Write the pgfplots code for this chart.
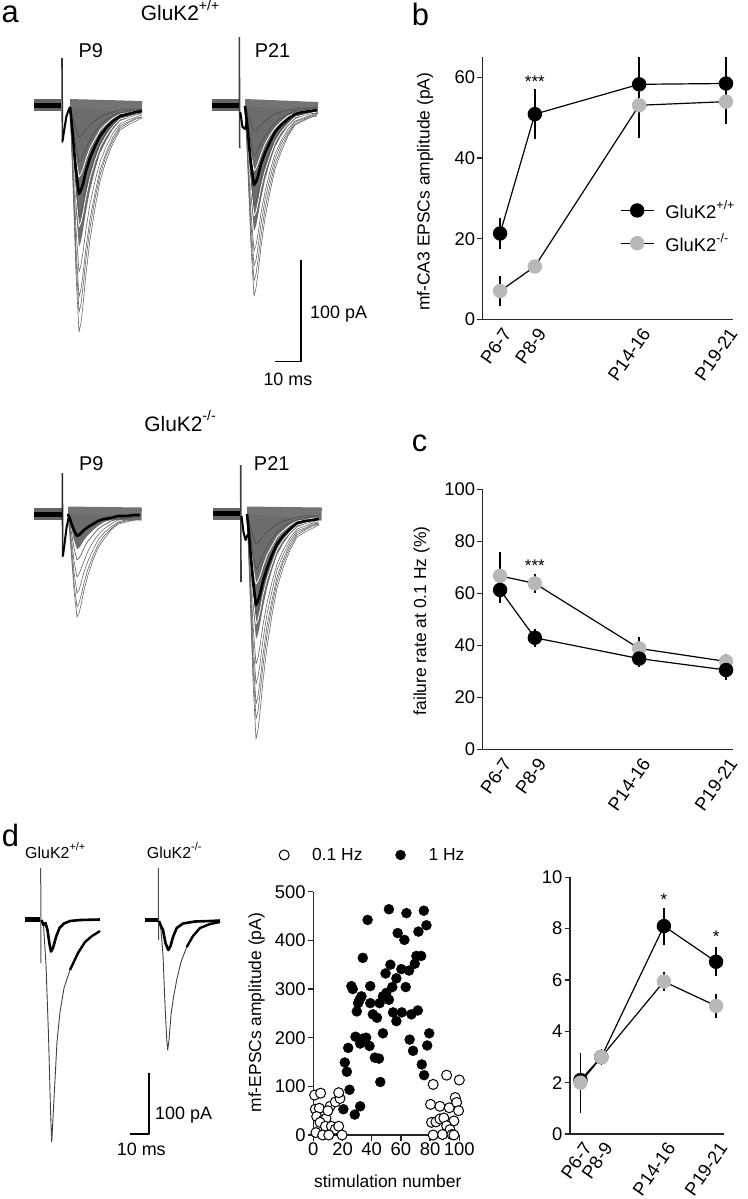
\documentclass[border=0pt]{standalone}
\usepackage{fontspec}
\setmainfont{Liberation Sans}
\usepackage{pgfplots}
\usepackage{pgfplotstable}
\pgfplotsset{compat=1.18}
\definecolor{mgrey}{RGB}{184,184,184}
\definecolor{trc}{RGB}{108,108,108}
\newcommand\fT{\fontsize{21}{23}\selectfont}
\newcommand\fPl{\fontsize{20}{22}\selectfont}
\newcommand\fB{\fontsize{18}{20}\selectfont}
\newcommand\fD{\fontsize{16}{18}\selectfont}
\newcommand\fL{\fontsize{17.5}{20}\selectfont}
\newcommand\fP{\fontsize{31}{33}\selectfont}
\newcommand\fS{\fontsize{17}{19}\selectfont}
\newcommand\supx[2]{\raisebox{0.5em}{\fontsize{#1}{#1}\selectfont #2}}
\pgfplotsset{
 gp/.style={scale only axis, axis x line*=bottom, axis y line*=left,
   axis line style={line width=1.3bp, black!85},
   every tick/.style={line width=1.3bp, black!85},
   tick align=outside, major tick length=5.5bp,
   /pgf/number format/assume math mode=true,
   tick label style={font=\fontsize{18.5}{20}\selectfont},
   label style={font=\fL},
   yticklabel style={inner sep=2bp}},
 cat/.style={xmin=6, xtick={7,9,15,20}, xticklabels={P6-7,P8-9,P14-16,P19-21},
   every major x tick/.style={draw=none},
   xticklabel style={rotate=55, anchor=north east, inner sep=2bp, xshift=2bp}},
 blk/.style={black, line width=1.2bp, mark=*, mark size=6.6bp, mark options={solid, fill=black, draw=black},
   error bars/.cd, y dir=both, y explicit, error mark=none, error bar style={line width=1.3bp, black}},
 gry/.style={black, line width=1.2bp, mark=*, mark size=6.6bp, mark options={solid, fill=mgrey, draw=mgrey},
   error bars/.cd, y dir=both, y explicit, error mark=none, error bar style={line width=1.3bp, black}},
}
% ---------- traces (pixel units of the figure) ----------
\pgfplotstableread{
x avg fill l30 l55 l110 l165 l190 l205 l225 w70 w120
70 107 107 107 107 107 107 107 107 107 107 107
72 126 138 114 119 131 143 149 152 157 122 133
74 149 174 121 133 160 186 198 205 215 141 165
76 171 211 129 148 188 229 248 259 274 159 196
79 194 247 137 162 217 272 297 312 332 177 227
81 190 241 136 160 213 265 289 304 323 174 222
83 184 230 133 155 204 252 274 287 305 169 213
86 171 211 129 148 188 229 248 259 274 159 196
90 158 190 125 140 172 204 219 228 240 148 178
95 146 170 121 132 157 181 193 199 208 139 161
100 136 153 117 125 143 162 170 175 181 130 147
106 128 141 114 120 133 147 153 156 161 124 136
113 121 129 112 116 125 133 137 140 143 118 126
120 116 121 110 113 118 124 126 128 130 114 119
128 114 118 109 111 116 120 122 123 125 113 117
136 112 115 109 110 114 117 118 119 121 111 114
142 111 114 109 110 113 115 117 117 118 111 113
}\TA
\pgfplotstableread{
x avg fill l25 l50 l100 l145 l160 l175 l190 w65 w110
245 106 106 106 106 106 106 106 106 106 106 106
247 123 134 112 117 128 138 141 145 148 120 130
249 144 166 118 130 154 176 183 190 197 137 159
251 164 199 125 143 180 213 224 236 247 154 187
254 185 231 131 156 206 251 266 281 296 171 216
256 182 226 130 154 202 245 260 274 288 168 212
258 176 216 128 150 194 234 247 260 273 163 203
261 164 199 125 143 180 213 224 236 247 154 187
265 153 180 121 136 165 192 200 209 218 144 171
270 142 162 117 129 151 171 178 185 192 135 156
275 132 147 114 123 139 154 159 164 169 128 142
281 125 136 112 118 130 141 144 148 152 122 132
288 119 126 110 114 122 129 132 134 136 116 124
295 114 119 109 111 116 121 122 124 125 113 117
303 112 116 108 110 114 118 119 120 121 111 115
311 111 114 108 109 112 115 116 117 117 110 113
317 110 112 107 109 111 113 114 115 116 109 112
}\TB
\pgfplotstableread{
x avg fill l46 l63 l79 l93 l103
68 514 514 514 514 514 514 514
70 519 522 524 528 531 534 537
72 525 531 536 544 552 559 563
74 530 540 548 561 572 583 590
77 536 549 560 577 593 607 617
79 535 548 558 574 590 603 613
81 533 545 555 569 583 596 605
84 530 540 548 561 572 583 590
88 527 535 541 551 561 569 575
93 524 530 535 542 550 556 560
98 521 526 529 535 540 545 548
104 519 522 525 529 533 536 539
111 518 520 521 524 527 529 530
118 516 518 519 520 522 523 524
126 516 517 518 519 520 521 522
134 515 516 517 518 519 520 520
140 515 516 516 517 518 519 519
}\TC
\pgfplotstableread{
x avg fill l30 l55 l100 l150 l170 l190 l205 l225 w70 w110
247 514 514 514 514 514 514 514 514 514 514 514 514
249 534 542 521 526 536 547 551 556 559 564 529 538
251 558 574 528 540 562 586 596 605 612 622 548 567
253 581 607 536 555 588 625 640 655 666 681 566 595
256 605 639 544 569 614 664 684 704 719 739 584 624
258 601 634 543 567 610 658 677 696 711 730 581 620
260 594 624 540 562 602 646 664 681 694 712 576 611
263 581 607 536 555 588 625 640 655 666 681 566 595
267 568 588 532 547 573 603 614 626 635 647 555 579
272 555 570 528 539 559 582 591 600 606 615 546 564
277 544 555 524 532 547 564 570 577 582 588 537 550
283 536 544 521 527 538 550 555 560 563 568 531 540
290 529 534 519 523 530 538 541 544 547 550 525 532
297 523 527 517 520 524 529 531 533 535 537 521 525
305 521 524 516 518 522 526 528 529 530 532 520 523
313 520 522 516 517 520 523 524 525 526 528 518 521
319 519 520 516 517 519 522 523 524 524 525 518 520
}\TD
% ---------- summary data ----------
\pgfplotstableread{
x y e
7 21.3 3.8
9 50.9 6.2
15 58.3 7.6
20 58.5 6.8
}\ampWT
\pgfplotstableread{
x y e
7 7.0 3.8
9 13.1 1.6
15 53.1 8.0
20 54.0 5.6
}\ampKO
\pgfplotstableread{
x y e
7 61.3 5.0
9 42.9 3.5
15 34.9 3.3
20 30.5 4.0
}\failWT
\pgfplotstableread{
x y e
7 66.7 9.3
9 63.8 3.5
15 38.8 4.4
20 33.8 3.0
}\failKO
\pgfplotstableread{
x y e
7 2.10 0.30
9 3.00 0.25
15 8.10 0.72
20 6.71 0.57
}\facWT
\pgfplotstableread{
x y e
7 2.00 1.17
9 3.00 0.30
15 5.94 0.38
20 4.99 0.47
}\facKO
\pgfplotstableread{
x y
0.9 82
5 86
1.4 53
4.1 55
11.5 59
15.1 68
18.3 75
17.4 87
2.3 38
6.9 31
8.7 34
10 50
4.6 26
8.3 18
12.4 18
15.1 12
17.4 18
1.8 5
6.4 0
10.6 0
19.7 0
82.1 104
91.3 123
100 113
80.3 63
86.7 59
93.1 56
97.2 77
98.2 67
99.5 50
81 26
84 27
86.7 33
89.4 35
96.3 29
91.3 19
93.6 11
82.1 0
88.5 1
95 1
96.3 0
}\slow
\pgfplotstableread{
x y
51.8 464
63.8 456
75.7 461
37.2 442
77.5 431
72 418
57.8 415
62.4 401
33.9 364
70.6 368
73.9 368
69.5 352
52.8 350
65.6 338
60.3 341
49.5 332
56.9 322
26.1 306
27 300
39 306
63.3 304
54.1 304
50 292
33 285
51.8 278
30.7 271
39 271
45.4 271
29.8 254
40.8 248
43.6 241
54.6 252
60.6 252
56.9 234
67.2 248
71.6 256
28.9 202
33.9 198
36.2 200
32.1 188
38.5 183
47.7 209
79.4 209
66 196
78 184
23.9 179
42.2 159
45 157
68.3 173
21.6 149
23 130
74.3 145
75.9 123
45.9 109
24.8 93
20.6 53
32.1 59
28.4 42
31.7 278
47.7 285
}\fast
\begin{document}
\begin{tikzpicture}
\useasboundingbox (0bp,0bp) rectangle (748bp,-1199bp);
% ================= traces & annotations =================
\begin{axis}[at={(0bp,0bp)}, anchor=north west, scale only axis, width=748bp, height=1199bp,
  xmin=0, xmax=748, ymin=0, ymax=1199, y dir=reverse, hide axis, clip=false, no markers,
  every axis plot/.append style={line join=round}]
% ---- a, GluK2+/+ P9
\addplot[black!55, line width=12bp] coordinates {(70,105) (142,107)};
\addplot[draw=none, fill=trc] table[x=x,y=fill]{\TA} -- cycle;
\addplot[white, line width=0.8bp] table[x=x,y=w70]{\TA};
\addplot[white, line width=0.8bp] table[x=x,y=w120]{\TA};
\addplot[black!70, line width=0.6bp] table[x=x,y=l30]{\TA};
\addplot[black!70, line width=0.6bp] table[x=x,y=l55]{\TA};
\addplot[black!70, line width=0.6bp] table[x=x,y=l110]{\TA};
\addplot[black!60, line width=0.6bp] table[x=x,y=l165]{\TA};
\addplot[black!60, line width=0.6bp] table[x=x,y=l190]{\TA};
\addplot[black!60, line width=0.6bp] table[x=x,y=l205]{\TA};
\addplot[black!60, line width=0.6bp] table[x=x,y=l225]{\TA};
\addplot[black!60, line width=12bp] coordinates {(33.5,105) (61,105)};
\addplot[black, line width=5bp] coordinates {(33.5,105) (61,105)};
\addplot[black!80, line width=1.6bp] coordinates {(62,58) (62.4,143)};
\addplot[black, line width=2bp] coordinates {(62.6,141) (64.5,128) (66.5,116) (69,109) (70.5,107)};
\addplot[black, line width=2.6bp] table[x=x,y=avg]{\TA};
% ---- a, GluK2+/+ P21
\addplot[black!55, line width=12bp] coordinates {(245,105) (318,108)};
\addplot[draw=none, fill=trc] table[x=x,y=fill]{\TB} -- cycle;
\addplot[white, line width=0.8bp] table[x=x,y=w65]{\TB};
\addplot[white, line width=0.8bp] table[x=x,y=w110]{\TB};
\addplot[black!70, line width=0.6bp] table[x=x,y=l25]{\TB};
\addplot[black!70, line width=0.6bp] table[x=x,y=l50]{\TB};
\addplot[black!70, line width=0.6bp] table[x=x,y=l100]{\TB};
\addplot[black!60, line width=0.6bp] table[x=x,y=l145]{\TB};
\addplot[black!60, line width=0.6bp] table[x=x,y=l160]{\TB};
\addplot[black!60, line width=0.6bp] table[x=x,y=l175]{\TB};
\addplot[black!60, line width=0.6bp] table[x=x,y=l190]{\TB};
\addplot[black!60, line width=12bp] coordinates {(211.7,105) (238.5,105)};
\addplot[black, line width=5bp] coordinates {(211.7,105) (238.5,105)};
\addplot[black!75, line width=1.6bp] coordinates {(239.3,37) (239.7,148)};
\addplot[black, line width=2bp] coordinates {(240.3,112) (242.5,127) (245,129) (247,121)};
\addplot[black, line width=2.6bp] table[x=x,y=avg]{\TB};
% ---- a, GluK2-/- P9
\addplot[black!55, line width=13bp] coordinates {(68,513) (141.7,514)};
\addplot[draw=none, fill=trc] table[x=x,y=fill]{\TC} -- cycle;
\addplot[black!70, line width=0.6bp] table[x=x,y=l46]{\TC};
\addplot[black!60, line width=0.6bp] table[x=x,y=l63]{\TC};
\addplot[black!60, line width=0.6bp] table[x=x,y=l79]{\TC};
\addplot[black!60, line width=0.6bp] table[x=x,y=l93]{\TC};
\addplot[black!60, line width=0.6bp] table[x=x,y=l103]{\TC};
\addplot[black!60, line width=12bp] coordinates {(34,514) (61.5,514)};
\addplot[black, line width=5bp] coordinates {(34,514) (61.5,514)};
\addplot[black!85, line width=1.6bp] coordinates {(62.3,473) (62.7,557)};
\addplot[black, line width=2bp] coordinates {(62.9,556) (64.5,544) (66.5,528) (68.5,518) (70,519)};
\addplot[black, line width=2.6bp] table[x=x,y=avg]{\TC};
% ---- a, GluK2-/- P21
\addplot[black!55, line width=13bp] coordinates {(247,513) (321.7,514)};
\addplot[draw=none, fill=trc] table[x=x,y=fill]{\TD} -- cycle;
\addplot[white, line width=0.8bp] table[x=x,y=w70]{\TD};
\addplot[white, line width=0.8bp] table[x=x,y=w110]{\TD};
\addplot[black!70, line width=0.6bp] table[x=x,y=l30]{\TD};
\addplot[black!70, line width=0.6bp] table[x=x,y=l55]{\TD};
\addplot[black!70, line width=0.6bp] table[x=x,y=l100]{\TD};
\addplot[black!60, line width=0.6bp] table[x=x,y=l150]{\TD};
\addplot[black!60, line width=0.6bp] table[x=x,y=l170]{\TD};
\addplot[black!60, line width=0.6bp] table[x=x,y=l190]{\TD};
\addplot[black!60, line width=0.6bp] table[x=x,y=l205]{\TD};
\addplot[black!60, line width=0.6bp] table[x=x,y=l225]{\TD};
\addplot[black!60, line width=12bp] coordinates {(213.3,513.5) (240,513.5)};
\addplot[black, line width=5bp] coordinates {(213.3,513.5) (240,513.5)};
\addplot[black!75, line width=1.6bp] coordinates {(240.7,465) (241,582)};
\addplot[black, line width=2bp] coordinates {(241.5,516) (243.5,532) (245.5,540) (247.5,535) (249,534)};
\addplot[black, line width=2.6bp] table[x=x,y=avg]{\TD};
% ---- scale bar a
\addplot[black, line width=1.5bp] coordinates {(275,361.7) (301,361.7) (301,260)};
% ---- d traces, GluK2+/+
\addplot[black, line width=4.5bp] coordinates {(25,919.5) (40,919.5)};
\addplot[black!70, line width=1bp] coordinates {(40.7,868) (41,963)};
\addplot[black!75, line width=0.9bp] coordinates {(41.5,921) (43.5,925) (46,965) (48.5,1035) (50.5,1110) (51.7,1142) (53,1118) (55,1080) (57,1042) (60,1012) (64,988) (70,970) (78,953) (85,942) (92,936) (100,931)};
\addplot[black, line width=2.4bp] coordinates {(70,970) (78,953) (85,942) (92,936) (100,931)};
\addplot[black, line width=2.6bp] coordinates {(41.5,920) (43.5,925) (45.5,923) (47.5,930) (49.5,944) (51,951.5) (53,948) (56,937) (59.5,928) (64,923.5) (70,921) (80,920) (100,919.5)};
% ---- d traces, GluK2-/-
\addplot[black, line width=4.5bp] coordinates {(145,920) (158,920)};
\addplot[black!70, line width=1bp] coordinates {(158.3,868) (158.6,940)};
\addplot[black!75, line width=0.9bp] coordinates {(159,921) (161,930) (163,955) (165,1005) (166.8,1040) (167.7,1050) (169,1040) (171,1015) (173.5,997) (176.7,980) (181,962) (186.7,947) (193,936) (200,928) (210,924) (220,922)};
\addplot[black, line width=2.4bp] coordinates {(186.7,947) (193,936) (200,928) (210,924) (220,922)};
\addplot[black, line width=2.6bp] coordinates {(159,921) (161,926) (163,930) (165.5,943) (168.3,950) (170.5,946) (173,937) (176.7,928) (183,923.5) (195,921.5) (210,921) (220,920.5)};
% ---- scale bar d
\addplot[black, line width=1.5bp] coordinates {(130,1134) (149,1134) (149,1073.3)};
% ---- texts
\node[anchor=base west, font=\fP, inner sep=0pt, text height=0.55em] at (axis cs:1.5,22.5) {a};
\node[anchor=base west, font=\fP, inner sep=0pt, text height=0.75em] at (axis cs:411.7,25) {b};
\node[anchor=base west, font=\fP, inner sep=0pt, text height=0.55em] at (axis cs:411.7,451.7) {c};
\node[anchor=base west, font=\fP, inner sep=0pt, text height=0.75em] at (axis cs:1.7,846.7) {d};
\node[anchor=base, font=\fT] at (axis cs:180,20.7) {GluK2\supx{14}{+/+}};
\node[anchor=base, font=\fPl] at (axis cs:90.8,57.3) {P9};
\node[anchor=base, font=\fPl] at (axis cs:272.5,57.3) {P21};
\node[anchor=base, font=\fT] at (axis cs:180,431) {GluK2\supx{14}{-/-}};
\node[anchor=base, font=\fPl] at (axis cs:91.2,470.7) {P9};
\node[anchor=base, font=\fPl] at (axis cs:271.7,470.7) {P21};
\node[anchor=base west, font=\fB, inner sep=0pt] at (axis cs:310,318.3) {100 pA};
\node[anchor=base west, font=\fB, inner sep=0pt] at (axis cs:263.3,385) {10 ms};
\node[anchor=base west, font=\fD, inner sep=0pt] at (axis cs:25,858.3) {GluK2\supx{11}{+/+}};
\node[anchor=base west, font=\fD, inner sep=0pt] at (axis cs:146.7,858.3) {GluK2\supx{11}{-/-}};
\node[anchor=base west, font=\fB, inner sep=0pt] at (axis cs:155,1119) {100 pA};
\node[anchor=base west, font=\fB, inner sep=0pt] at (axis cs:116.7,1155) {10 ms};
\end{axis}
% ================= b =================
\begin{axis}[gp, cat, at={(482.7bp,-319.3bp)}, anchor=south west, width=250.3bp, height=262bp,
  xmax=20.4, ymin=0, ymax=65, ytick={0,20,40,60},
  ylabel={mf-CA3 EPSCs amplitude (pA)},
  ylabel style={at={(axis description cs:-0.2305,0.487)}, anchor=center},
  legend style={at={(0.548,0.353)}, anchor=west, draw=none, fill=none, inner sep=0pt,
    row sep=9bp, font=\fontsize{18.5}{20}\selectfont,
    /tikz/every odd column/.append style={column sep=9bp}},
  legend cell align=left,
  legend image code/.code={\draw[#1, mark repeat=2, mark phase=2] plot coordinates {(0bp,0bp) (16.5bp,0bp) (33bp,0bp)};}]
\addplot[blk] table[x=x,y=y,y error=e]{\ampWT};
\addplot[gry] table[x=x,y=y,y error=e]{\ampKO};
\legend{GluK2\supx{12.5}{+/+}, GluK2\supx{12.5}{-/-}}
\node[anchor=base, font=\fS] at (axis cs:9,57.5) {***};
\end{axis}
% ================= c =================
\begin{axis}[gp, cat, at={(482.7bp,-749.3bp)}, anchor=south west, width=250.3bp, height=260bp,
  xmax=20.4, ymin=0, ymax=100, ytick={0,20,40,60,80,100},
  ylabel={failure rate at 0.1 Hz (\%)},
  ylabel style={at={(axis description cs:-0.244,0.494)}, anchor=center}]
\addplot[gry] table[x=x,y=y,y error=e]{\failKO};
\addplot[blk] table[x=x,y=y,y error=e]{\failWT};
\node[anchor=base, font=\fS] at (axis cs:9,68.3) {***};
\end{axis}
% ================= d scatter =================
\begin{axis}[gp, at={(313.3bp,-1135bp)}, anchor=south west, width=146bp, height=243.3bp,
  xmin=0, xmax=100, ymin=0, ymax=500, xtick={0,20,40,60,80,100}, ytick={0,100,200,300,400,500},
  xlabel={stimulation number}, ylabel={mf-EPSCs amplitude (pA)},
  xlabel style={at={(axis description cs:0.51,-0.192)}, anchor=center},
  ylabel style={at={(axis description cs:-0.388,0.503)}, anchor=center},
  xticklabel style={inner sep=2bp},
  legend columns=2,
  legend style={at={(-0.235,1.151)}, anchor=west, draw=none, fill=none, inner sep=0pt,
    font=\fontsize{17.5}{20}\selectfont,
    /tikz/every odd column/.append style={column sep=21bp},
    /tikz/every even column/.append style={column sep=31bp}},
  legend image code/.code={\draw[#1] plot coordinates {(5bp,0bp)};}]
\addplot[only marks, mark=*, mark size=5bp, mark options={fill=white, draw=black, line width=1bp}] table[x=x,y=y]{\slow};
\addplot[only marks, mark=*, mark size=5bp, mark options={fill=black, draw=black}] table[x=x,y=y]{\fast};
\legend{0.1 Hz, 1 Hz}
\end{axis}
% ================= d right =================
\begin{axis}[gp, cat, at={(570bp,-1134bp)}, anchor=south west, width=154bp, height=256.7bp,
  xmax=20.76, ymin=0, ymax=10, ytick={0,2,4,6,8,10}]
\addplot[blk] table[x=x,y=y,y error=e]{\facWT};
\addplot[gry] table[x=x,y=y,y error=e]{\facKO};
\node[anchor=base, font=\fS] at (axis cs:15,8.92) {*};
\node[anchor=base, font=\fS] at (axis cs:20,7.47) {*};
\end{axis}
\end{tikzpicture}
\end{document}
